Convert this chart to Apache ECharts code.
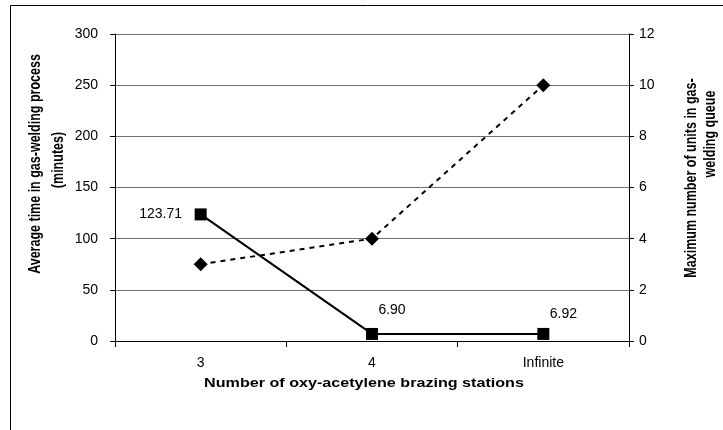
<!DOCTYPE html>
<html>
<head>
<meta charset="utf-8">
<script src="https://cdn.jsdelivr.net/npm/echarts@6/dist/echarts.min.js"></script>
<style>
  html, body { margin: 0; padding: 0; background: #fff; }
  #chart { width: 723px; height: 430px; }
</style>
</head>
<body>
<div id="chart"></div>
<script>
const categories = ['3', '4', 'Infinite'];
const avgTime = [123.71, 6.90, 6.92];          // left axis, minutes
const maxQueue = [3, 4, 10];                    // right axis, units
const timeLabels = ['123.71', '6.90', '6.92'];

const font = 'Liberation Sans, Arial, sans-serif';
const titleStyle = { font: 'bold 12.5px Liberation Sans, Arial, sans-serif', fill: '#000', align: 'center', verticalAlign: 'middle' };

const chart = echarts.init(document.getElementById('chart'));

// axis titles drawn as text; the original picture is a bit stretched sideways, so widen the glyphs
function vTitle(text, x, y) {
  return { type: 'text', x: x, y: y, rotation: Math.PI / 2, scaleY: 1.28, silent: true,
           style: Object.assign({ text: text }, titleStyle) };
}

const option = {
  animation: false,
  backgroundColor: '#fff',
  textStyle: { fontFamily: font },
  graphic: [
    {
      type: 'rect',
      shape: { x: 10.5, y: 5.5, width: 800, height: 500 },
      style: { fill: 'none', stroke: '#000', lineWidth: 1 },
      silent: true
    },
    vTitle('Average time in gas-welding process', 36, 164),
    vTitle('(minutes)', 59, 160),
    vTitle('Maximum number of units in gas-', 692, 178),
    vTitle('welding queue', 711, 134),
    {
      type: 'text', x: 364, y: 383, scaleX: 1.24, silent: true,
      style: Object.assign({ text: 'Number of oxy-acetylene brazing stations' }, titleStyle, { font: 'bold 13px Liberation Sans, Arial, sans-serif' })
    }
  ],
  grid: { left: 115, right: 94, top: 34, bottom: 89 },
  xAxis: {
    type: 'category',
    data: categories,
    boundaryGap: true,
    axisLine: { lineStyle: { color: '#000', width: 1 } },
    axisTick: { show: true, length: 6, lineStyle: { color: '#000' } },
    axisLabel: { margin: 15, fontSize: 14, color: '#000', fontFamily: font },
    splitLine: { show: false }
  },
  yAxis: [{
    type: 'value',
    min: 0, max: 300, interval: 50,
    position: 'left',
    axisLine: { show: true, lineStyle: { color: '#000', width: 1 } },
    axisTick: { show: true, length: 5, lineStyle: { color: '#000' } },
    axisLabel: { margin: 17, fontSize: 14, color: '#000', fontFamily: font },
    splitLine: { show: true, lineStyle: { color: '#707070', width: 1 } }
  }, {
    type: 'value',
    min: 0, max: 12, interval: 2,
    position: 'right',
    axisLine: { show: true, lineStyle: { color: '#000', width: 1 } },
    axisTick: { show: true, length: 5, lineStyle: { color: '#000' } },
    axisLabel: { margin: 10, fontSize: 14, color: '#000', fontFamily: font },
    splitLine: { show: false }
  }],
  series: [{
    name: 'Average time',
    type: 'line',
    yAxisIndex: 0,
    data: avgTime,
    symbol: 'rect',
    symbolSize: 12,
    itemStyle: { color: '#000' },
    lineStyle: { color: '#000', width: 2 },
    label: {
      show: true,
      fontSize: 14,
      color: '#000',
      fontFamily: font,
      formatter: p => timeLabels[p.dataIndex]
    },
    labelLayout: function (params) {
      const i = params.dataIndex;
      const r = params.labelRect;
      if (i === 0) {
        return { x: r.x - 40, y: r.y + 18 };
      }
      if (i === 1) {
        return { x: r.x + 20, y: r.y - 6 };
      }
      return { x: r.x + 20, y: r.y - 2 };
    },
    z: 3
  }, {
    name: 'Max queue',
    type: 'line',
    yAxisIndex: 1,
    data: maxQueue,
    symbol: 'diamond',
    symbolSize: 14,
    itemStyle: { color: '#000' },
    lineStyle: { color: '#000', width: 2, type: [5, 5] },
    z: 2
  }]
};

chart.setOption(option);
</script>
</body>
</html>
